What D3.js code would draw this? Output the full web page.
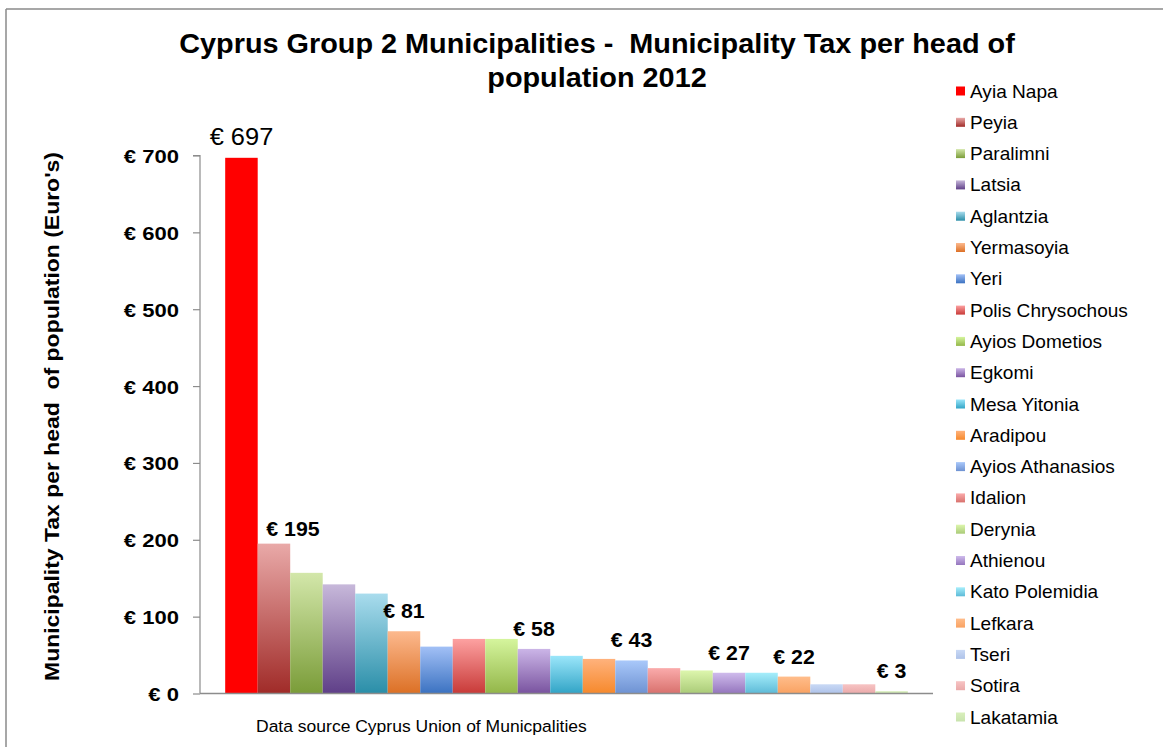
<!DOCTYPE html>
<html>
<head>
<meta charset="utf-8">
<script src="https://cdn.jsdelivr.net/npm/d3@7"></script>
<style>
  html, body { margin: 0; padding: 0; background: #ffffff; }
  svg { display: block; font-family: "Liberation Sans", Arial, sans-serif; }
</style>
</head>
<body>
<svg id="chart" width="1163" height="747"></svg>
<script>
// Municipalities, ordered from highest to lowest tax per head
const municipalities = [
  "Ayia Napa", "Peyia", "Paralimni", "Latsia", "Aglantzia", "Yermasoyia", "Yeri",
  "Polis Chrysochous", "Ayios Dometios", "Egkomi", "Mesa Yitonia", "Aradipou",
  "Ayios Athanasios", "Idalion", "Derynia", "Athienou", "Kato Polemidia",
  "Lefkara", "Tseri", "Sotira", "Lakatamia"
];
// Municipality tax per head of population, 2012 (EUR)
const taxPerHead = [697, 195, 157, 142, 130, 81, 61, 71, 71, 58, 49, 45, 43, 33, 30, 27, 27, 22, 12, 12, 3];
// Bars that carry a value label
const labelled = ["Ayia Napa", "Peyia", "Yermasoyia", "Egkomi", "Ayios Athanasios", "Athienou", "Lefkara", "Lakatamia"];
const yTicks = [0, 100, 200, 300, 400, 500, 600, 700];

// Fill for each bar: light at the top, deep at the base
const colorTop = [
  "#ff0000", "#e9a9a8", "#d3e7aa", "#c7b8da", "#a9dced", "#fcb98e", "#a2c0f6",
  "#fda1a1", "#d5f59d", "#cbb5e7", "#9be6fa", "#ffb27c", "#a9c8fa",
  "#faabab", "#ddf6ad", "#cfbbec", "#a6eefb", "#ffbd8b", "#c9d9f5", "#f7c4c4", "#d9efbc"
];
const colorBottom = [
  "#ff0000", "#a02b28", "#7a9c38", "#5f3f88", "#2a8ea8", "#dc7025", "#3b72c1",
  "#c83a38", "#93b649", "#79539f", "#31a4c6", "#f6892c", "#6e92d2",
  "#d8716d", "#aacb78", "#9475bd", "#5dbad7", "#f9a262", "#aec2e9", "#eaa9a9", "#c8e3ad"
];

const svg = d3.select("#chart");
const defs = svg.append("defs");

const W = 1163, H = 747;
const plotX0 = 200, plotX1 = 933;
const plotY0 = 693.5, plotYTop = 155.5;

// Place a text at (x, y) with a slight horizontal widening of its glyphs
function place(sel, x, y, sx, rot) {
  sel.attr("x", 0).attr("y", 0)
    .attr("transform", `translate(${x},${y})${rot ? ` rotate(${rot})` : ""} scale(${sx},1)`);
  return sel;
}

// Outer frame (top and left edges)
svg.append("line").attr("x1", 6).attr("x2", W).attr("y1", 9).attr("y2", 9)
  .attr("stroke", "#8a8a8a").attr("stroke-width", 1.5);
svg.append("line").attr("x1", 6).attr("x2", 6).attr("y1", 9).attr("y2", H)
  .attr("stroke", "#8a8a8a").attr("stroke-width", 1.5);

// Gradients
municipalities.forEach((m, i) => {
  const g = defs.append("linearGradient")
    .attr("id", "grad" + i)
    .attr("x1", 0).attr("y1", 0).attr("x2", 0).attr("y2", 1);
  g.append("stop").attr("offset", "0%").attr("stop-color", colorTop[i]);
  g.append("stop").attr("offset", "100%").attr("stop-color", colorBottom[i]);
});

const y = d3.scaleLinear().domain([0, 700]).range([plotY0, plotYTop]);
const x = d3.scaleBand().domain(municipalities).range([plotX0, plotX1])
  .paddingInner(0).paddingOuter(0.775);

// Y axis
const yAxis = d3.axisLeft(y).tickValues(yTicks).tickSize(7).tickFormat(d => "€ " + d);
const gy = svg.append("g").attr("transform", `translate(${plotX0},0)`).call(yAxis);
gy.select(".domain").attr("stroke", "#8c8c8c").attr("stroke-width", 1.2)
  .attr("d", `M-7,${plotYTop}H0V${plotY0}`);
gy.selectAll(".tick line").attr("stroke", "#8c8c8c").attr("stroke-width", 1.2);
gy.selectAll(".tick text")
  .attr("dy", null)
  .attr("fill", "#000")
  .style("font-size", "19px")
  .style("font-weight", "bold")
  .style("font-family", "'Liberation Sans', Arial, sans-serif")
  .each(function () { place(d3.select(this), -21, 7, 1.16); });

// Bars
svg.append("g").selectAll("rect")
  .data(municipalities)
  .join("rect")
  .attr("x", d => x(d))
  .attr("width", x.bandwidth())
  .attr("y", (d, i) => y(taxPerHead[i]))
  .attr("height", (d, i) => y(0) - y(taxPerHead[i]))
  .attr("fill", (d, i) => `url(#grad${i})`);

// Baseline (x axis)
svg.append("line").attr("x1", plotX0).attr("x2", plotX1)
  .attr("y1", plotY0).attr("y2", plotY0)
  .attr("stroke", "#8c8c8c").attr("stroke-width", 1.5);

// Value labels
const labelShift = { "Peyia": [19, 5] };
svg.append("g").selectAll("text")
  .data(labelled)
  .join("text")
  .attr("text-anchor", "middle")
  .style("font-size", d => d === "Ayia Napa" ? "24px" : "20.5px")
  .style("font-weight", d => d === "Ayia Napa" ? "normal" : "bold")
  .attr("fill", "#000")
  .text(d => "€ " + taxPerHead[municipalities.indexOf(d)])
  .each(function (d) {
    const s = labelShift[d] || [0, 0];
    const cx = x(d) + x.bandwidth() / 2 + s[0];
    const cy = y(taxPerHead[municipalities.indexOf(d)]) - 13 + s[1];
    place(d3.select(this), cx, cy, d === "Ayia Napa" ? 1.06 : 1.04);
  });

// Title
const titleLines = ["Cyprus Group 2 Municipalities -  Municipality Tax per head of", "population 2012"];
svg.append("g").selectAll("text").data(titleLines).join("text")
  .attr("text-anchor", "middle")
  .style("font-size", "28px").style("font-weight", "bold")
  .style("white-space", "pre")
  .attr("fill", "#000")
  .text(d => d)
  .each(function (d, i) { place(d3.select(this), 597, 53 + i * 34, 1.03); });

// Y axis title
place(svg.append("text")
  .attr("text-anchor", "middle")
  .style("font-size", "20.5px").style("font-weight", "bold")
  .style("white-space", "pre")
  .attr("fill", "#000")
  .text("Municipality Tax per head  of population (Euro's)"),
  59, (plotY0 + plotYTop) / 2 - 8, 1.12, -90);

// Source note
place(svg.append("text")
  .style("font-size", "17px").attr("fill", "#000")
  .text("Data source Cyprus Union of Municpalities"), 256, 732, 1.03);

// Legend
const legend = svg.append("g").attr("transform", "translate(956,91)");
const rowH = 31.3;
const item = legend.selectAll("g").data(municipalities).join("g")
  .attr("transform", (d, i) => `translate(0,${i * rowH})`);
item.append("rect").attr("x", 0).attr("y", -4.5).attr("width", 9).attr("height", 9)
  .attr("fill", (d, i) => `url(#grad${i})`);
item.append("text")
  .style("font-size", "18px").attr("fill", "#000")
  .text(d => d)
  .each(function () { place(d3.select(this), 14, 6.5, 1.06); });
</script>
</body>
</html>
